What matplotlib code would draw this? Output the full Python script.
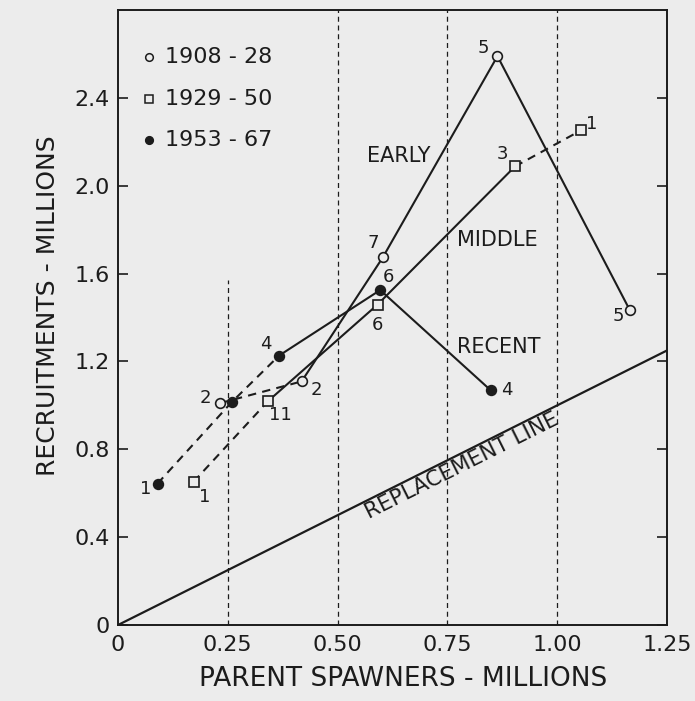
import numpy as np
import matplotlib
matplotlib.use('Agg')
import matplotlib.pyplot as plt

# 1908-28 (open circles)
early_x = [0.232, 0.418, 0.603, 0.864, 1.165]
early_y = [1.010, 1.109, 1.674, 2.590, 1.435]
early_lab = ['2', '2', '7', '5', '5']

# 1929-50 (open squares)
middle_x = [0.172, 0.342, 0.591, 0.904, 1.055]
middle_y = [0.652, 1.020, 1.459, 2.088, 2.253]
middle_lab = ['1', '11', '6', '3', '1']

# 1953-67 (filled circles)
recent_x = [0.090, 0.259, 0.367, 0.597, 0.849]
recent_y = [0.644, 1.015, 1.227, 1.525, 1.068]
recent_lab = ['1', '', '4', '6', '4']

repl_x = [0, 1.25]
repl_y = [0, 1.25]

xticks = [0, 0.25, 0.50, 0.75, 1.00, 1.25]
xticklabels = ['0', '0.25', '0.50', '0.75', '1.00', '1.25']
yticks = [0, 0.4, 0.8, 1.2, 1.6, 2.0, 2.4]
yticklabels = ['0', '0.4', '0.8', '1.2', '1.6', '2.0', '2.4']

# label offsets in pixels (style only)
early_off = [(-15, 5), (15, -9), (-10, 14), (-14, 8), (-11, -6)]
middle_off = [(11, -15), (12, -14), (0, -20), (-13, 12), (10, 6)]
recent_off = [(-12, -5), (0, 0), (-13, 12), (8, 13), (16, 0)]

bg = '#ececec'
ink = '#1c1c1c'
plt.rcParams['font.family'] = ['DejaVu Sans']

fig = plt.figure(figsize=(6.95, 7.01), dpi=100, facecolor=bg)
ax = fig.add_axes([0.1698, 0.1084, 0.7899, 0.8773], facecolor=bg)

# dashed verticals
ax.vlines(0.25, 0, 1.57, colors=ink, linestyles=(0, (4, 3)), lw=0.9)
for xv in [0.5, 0.75, 1.0]:
    ax.axvline(xv, color=ink, ls=(0, (4, 3)), lw=0.9)

# replacement line
ax.plot(repl_x, repl_y, color=ink, lw=1.6)

dash = (0, (4, 3))
mk = dict(ms=7, mew=1.2, mec=ink)

# early
ax.plot(early_x[0:2], early_y[0:2], color=ink, lw=1.5, ls=dash)
ax.plot(early_x[1:], early_y[1:], color=ink, lw=1.5)
ax.plot(early_x, early_y, 'o', mfc=bg, **mk, zorder=5)

# middle
ax.plot(middle_x[0:2], middle_y[0:2], color=ink, lw=1.5, ls=dash)
ax.plot(middle_x[1:4], middle_y[1:4], color=ink, lw=1.5)
ax.plot(middle_x[3:], middle_y[3:], color=ink, lw=1.5, ls=dash)
ax.plot(middle_x, middle_y, 's', mfc=bg, ms=6.5, mew=1.2, mec=ink, zorder=5)

# recent
ax.plot(recent_x[0:3], recent_y[0:3], color=ink, lw=1.5, ls=dash)
ax.plot(recent_x[2:], recent_y[2:], color=ink, lw=1.5)
ax.plot(recent_x, recent_y, 'o', mfc=ink, **mk, zorder=5)

for xs, ys, labs, offs in [(early_x, early_y, early_lab, early_off),
                           (middle_x, middle_y, middle_lab, middle_off),
                           (recent_x, recent_y, recent_lab, recent_off)]:
    for x, y, s, o in zip(xs, ys, labs, offs):
        if s:
            ax.annotate(s, (x, y), xytext=o, textcoords='offset pixels',
                        ha='center', va='center', fontsize=13, color=ink)

ax.text(0.640, 2.136, 'EARLY', ha='center', va='center', fontsize=15, color=ink)
ax.text(0.772, 1.755, 'MIDDLE', ha='left', va='center', fontsize=15, color=ink)
ax.text(0.772, 1.264, 'RECENT', ha='left', va='center', fontsize=15, color=ink)
ax.text(0.784, 0.725, 'REPLACEMENT LINE', ha='center', va='center', fontsize=15.5,
        color=ink, rotation=45, transform_rotates_text=True, rotation_mode='anchor')

# legend
leg_marks = [dict(marker='o', mfc=bg), dict(marker='s', mfc=bg), dict(marker='o', mfc=ink)]
leg_text = ['1908 - 28', '1929 - 50', '1953 - 67']
for i, (m, t) in enumerate(zip(leg_marks, leg_text)):
    yy = 0.9236 - i * 0.0675
    ax.plot([0.0565], [yy], transform=ax.transAxes, ms=5.5, mew=1.1, mec=ink,
            ls='none', clip_on=False, **m)
    ax.text(0.0856, yy, t, transform=ax.transAxes, ha='left', va='center',
            fontsize=16, color=ink)

ax.set_xlim(0, 1.25)
ax.set_ylim(0, 2.8)
ax.set_xticks(xticks)
ax.set_xticklabels(xticklabels)
ax.set_yticks(yticks)
ax.set_yticklabels(yticklabels)
ax.tick_params(axis='x', length=0, pad=7, labelsize=16, colors=ink)
ax.tick_params(axis='y', direction='in', length=7, width=1.2, right=True,
               pad=6, labelsize=16, colors=ink)
for sp in ax.spines.values():
    sp.set_color(ink)
    sp.set_linewidth(1.4)

ax.set_xlabel('PARENT SPAWNERS - MILLIONS', fontsize=19, color=ink, labelpad=8)
ax.set_ylabel('RECRUITMENTS - MILLIONS', fontsize=18, color=ink, labelpad=10)
ax.xaxis.label.set_x(0.52)
ax.yaxis.label.set_y(0.52)

fig.savefig('out.png', dpi=100, facecolor=bg)
